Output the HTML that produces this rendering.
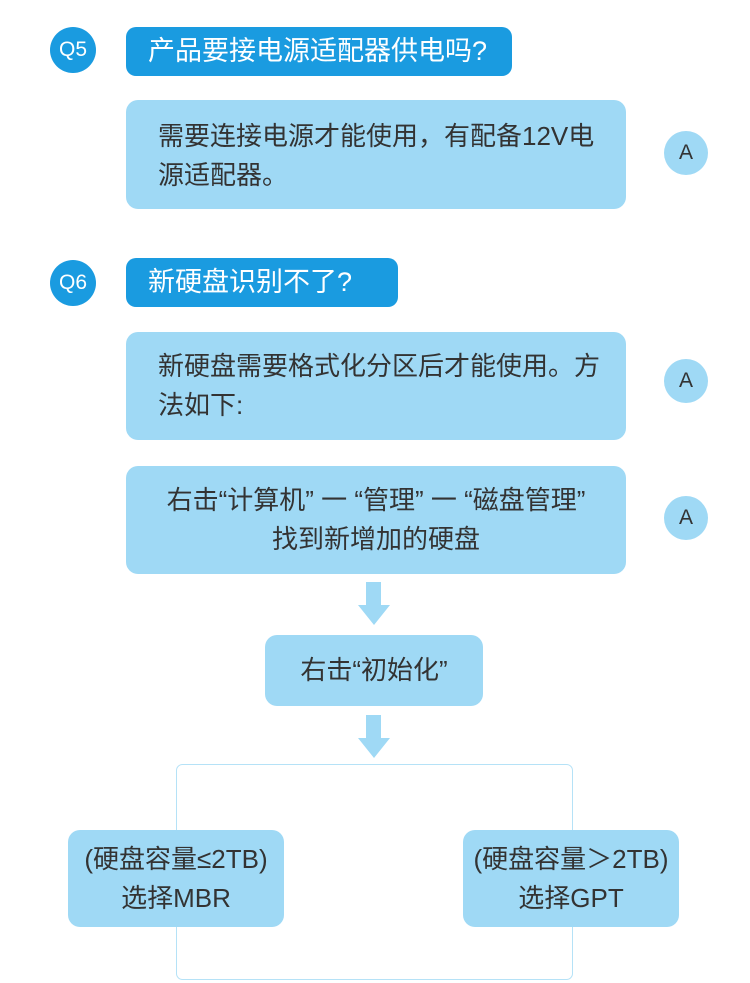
<!DOCTYPE html>
<html><head><meta charset="utf-8"><style>
body{margin:0;width:750px;height:983px;background:#fff;position:relative;overflow:hidden;font-family:"Liberation Sans","Noto Sans CJK SC",sans-serif;color:#333}
.a{position:absolute;box-sizing:border-box}
.c{border-radius:50%;display:flex;align-items:center;justify-content:center;font-size:21px}
.q{background:#1a9be0;color:#fff}
.l{background:#9fd9f5}
.h{border-radius:10px;color:#fff;background:#1a9be0;font-size:27px;line-height:49px;padding-left:22px;white-space:nowrap}
.b{border-radius:12px;background:#9fd9f5;font-size:26px;line-height:39px;white-space:nowrap}
.ctr{text-align:center;display:flex;align-items:center;justify-content:center}
</style></head><body>
<div class="a c q" style="left:50px;top:27px;width:46px;height:46px">Q5</div>
<div class="a h" style="left:126px;top:27px;width:386px;height:49px">产品要接电源适配器供电吗?</div>
<div class="a b" style="left:126px;top:100px;width:500px;height:109px;padding:17px 0 0 32px">需要连接电源才能使用，有配备12V电<br>源适配器。</div>
<div class="a c l" style="left:664px;top:131px;width:44px;height:44px">A</div>

<div class="a c q" style="left:50px;top:260px;width:46px;height:46px">Q6</div>
<div class="a h" style="left:126px;top:258px;width:272px;height:49px">新硬盘识别不了?</div>
<div class="a b" style="left:126px;top:332px;width:500px;height:108px;padding:15px 0 0 32px">新硬盘需要格式化分区后才能使用。方<br>法如下:</div>
<div class="a c l" style="left:664px;top:359px;width:44px;height:44px">A</div>

<div class="a b ctr" style="left:126px;top:466px;width:500px;height:108px">右击“计算机” 一 “管理” 一 “磁盘管理”<br>找到新增加的硬盘</div>
<div class="a c l" style="left:664px;top:496px;width:44px;height:44px">A</div>

<svg class="a" style="left:0;top:0" width="750" height="983">
<path d="M366 582h15v23h9l-16 20-16-20h8z" fill="#9fd9f5"/>
<path d="M366 715h15v23h9l-16 20-16-20h8z" fill="#9fd9f5"/>
<rect x="176.5" y="764.5" width="396" height="215" rx="6" fill="none" stroke="#b5e2f7" stroke-width="1"/>
</svg>

<div class="a b ctr" style="left:265px;top:635px;width:218px;height:71px">右击“初始化”</div>
<div class="a b ctr" style="left:68px;top:830px;width:216px;height:97px">(硬盘容量≤2TB)<br>选择MBR</div>
<div class="a b ctr" style="left:463px;top:830px;width:216px;height:97px">(硬盘容量＞2TB)<br>选择GPT</div>
</body></html>
